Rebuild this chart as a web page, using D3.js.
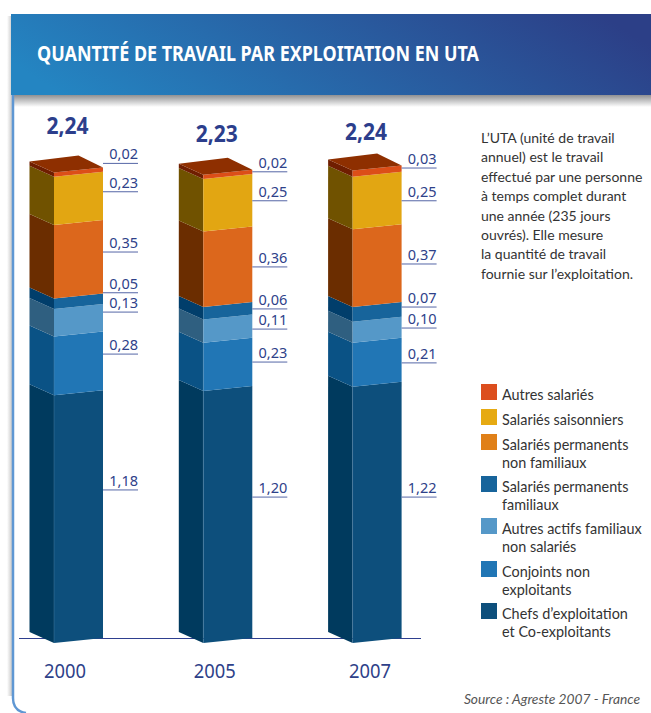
<!DOCTYPE html>
<html>
<head>
<meta charset="utf-8">
<script src="https://cdn.jsdelivr.net/npm/d3@7/dist/d3.min.js"></script>
<style>
  html, body { margin: 0; padding: 0; background: #fff; }
  svg { display: block; }
  text { font-family: "Noto Sans", sans-serif; }
  text.body { font-family: Lato, sans-serif; }
</style>
</head>
<body>
<div id="chart"></div>
<script>
const width = 651;
const height = 713;

const years = ["2000", "2005", "2007"];
const totals = ["2,24", "2,23", "2,24"];

// bottom to top
const categories = ["chefs", "conjoints", "actifs", "permFam", "permNonFam", "saisonniers", "autres"];
const chefs = [1.18, 1.20, 1.22];
const conjoints = [0.28, 0.23, 0.21];
const actifs = [0.13, 0.11, 0.10];
const permFam = [0.05, 0.06, 0.07];
const permNonFam = [0.35, 0.36, 0.37];
const saisonniers = [0.23, 0.25, 0.25];
const autres = [0.02, 0.02, 0.03];
const seriesValues = [chefs, conjoints, actifs, permFam, permNonFam, saisonniers, autres];

// height of each value label's leader line, in UTA on the same scale, per year
const leaderAt = [
  [0.705, 1.352, 1.552, 1.644, 1.838, 2.125, 2.26],
  [0.671, 1.314, 1.471, 1.567, 1.767, 2.082, 2.22],
  [0.671, 1.31, 1.476, 1.576, 1.781, 2.082, 2.238]
];

const frontColors = ["#0d4f7c", "#2176b5", "#5598c8", "#17649b", "#dc671c", "#e2a612", "#dc4e18"];
const sideColors = ["#003a5e", "#0a5285", "#2f5f80", "#013e6b", "#6b2d00", "#705200", "#6f1e00"];
const legendColors = ["#0d4f7c", "#2176b5", "#5598c8", "#17649b", "#e08018", "#e6aa12", "#dc4e1e"];

const legendLabels = [
  ["Chefs d’exploitation", "et Co-exploitants"],
  ["Conjoints non", "exploitants"],
  ["Autres actifs familiaux", "non salariés"],
  ["Salariés permanents", "familiaux"],
  ["Salariés permanents", "non familiaux"],
  ["Salariés saisonniers"],
  ["Autres salariés"]
];
const note = [
  "L’UTA (unité de travail",
  "annuel) est le travail",
  "effectué par une personne",
  "à temps complet durant",
  "une année (235 jours",
  "ouvrés). Elle mesure",
  "la quantité de travail",
  "fournie sur l’exploitation."
];

const textBlue = "#2e4189";
const sideW = 24.5;
const frontW = 49;
const frontDrop = 5;
const sideRise = 6;

const svg = d3.select("#chart").append("svg")
  .attr("width", width)
  .attr("height", height);

const defs = svg.append("defs");
const headGrad = defs.append("linearGradient").attr("id", "head").attr("x1", 0).attr("x2", 1).attr("y1", 0.6).attr("y2", 0.4);
headGrad.append("stop").attr("offset", "0%").attr("stop-color", "#2485c2");
headGrad.append("stop").attr("offset", "100%").attr("stop-color", "#2c3f87");
const shadowGrad = defs.append("linearGradient").attr("id", "shadow").attr("x1", 0).attr("x2", 0).attr("y1", 0).attr("y2", 1);
shadowGrad.append("stop").attr("offset", "0%").attr("stop-color", "#8f9092");
shadowGrad.append("stop").attr("offset", "100%").attr("stop-color", "#ffffff");
const leftGrad = defs.append("linearGradient").attr("id", "leftShadow").attr("x1", 0).attr("x2", 1).attr("y1", 0).attr("y2", 0);
leftGrad.append("stop").attr("offset", "0%").attr("stop-color", "#ffffff");
leftGrad.append("stop").attr("offset", "100%").attr("stop-color", "#c9c9c9");

// frame
svg.append("rect").attr("x", 7).attr("y", 16).attr("width", 5).attr("height", 680).attr("fill", "url(#leftShadow)");
svg.append("rect").attr("x", 13).attr("y", 95).attr("width", 638).attr("height", 12).attr("fill", "url(#shadow)");
svg.append("path")
  .attr("d", "M13,95V698Q13,711 26,713")
  .attr("fill", "none")
  .attr("stroke", "#5f97d3")
  .attr("stroke-width", 2.5);
svg.append("rect").attr("x", 11).attr("y", 14).attr("width", 640).attr("height", 81).attr("fill", "url(#head)");
svg.append("text")
  .attr("x", 37)
  .attr("y", 61)
  .attr("fill", "#fff")
  .attr("font-size", 21)
  .attr("font-weight", 700)
  .attr("textLength", 442)
  .attr("lengthAdjust", "spacingAndGlyphs")
  .text("QUANTITÉ DE TRAVAIL PAR EXPLOITATION EN UTA");

// scales
const x = d3.scalePoint().domain(years).range([54, 352.6]);
const y = d3.scaleLinear().domain([0, 2.25]).range([638, 165.5]);

const table = years.map((yr, i) => {
  const row = { year: yr };
  categories.forEach((c, j) => { row[c] = seriesValues[j][i]; });
  return row;
});
const stacked = d3.stack().keys(categories)(table);

// baseline
svg.append("line")
  .attr("x1", 19).attr("x2", 421)
  .attr("y1", y(0) + 0.5).attr("y2", y(0) + 0.5)
  .attr("stroke", "#2e3f8f")
  .attr("stroke-width", 1);

const sidePath = (fl, d) => {
  const b = y(d[0]), t = y(d[1]);
  return "M" + (fl - sideW) + "," + (b - sideRise) + "L" + fl + "," + (b + frontDrop) +
    "V" + (t + frontDrop) + "L" + (fl - sideW) + "," + (t - sideRise) + "Z";
};
const frontPath = (fl, d) => {
  const b = y(d[0]), t = y(d[1]);
  return "M" + fl + "," + (b + frontDrop) + "L" + (fl + frontW) + "," + b +
    "V" + t + "L" + fl + "," + (t + frontDrop) + "Z";
};

const layers = svg.selectAll("g.layer")
  .data(stacked)
  .enter()
  .append("g")
  .attr("class", "layer");

layers.selectAll("path.side")
  .data((s, j) => s.map(d => ({ d, j })))
  .enter()
  .append("path")
  .attr("class", "side")
  .attr("fill", p => sideColors[p.j])
  .attr("d", p => sidePath(x(p.d.data.year), p.d));

layers.selectAll("path.front")
  .data((s, j) => s.map(d => ({ d, j })))
  .enter()
  .append("path")
  .attr("class", "front")
  .attr("fill", p => frontColors[p.j])
  .attr("d", p => frontPath(x(p.d.data.year), p.d));

// faint seam on the corner of the two blue bottom layers
svg.selectAll("line.seam")
  .data(stacked[1])
  .enter()
  .append("line")
  .attr("class", "seam")
  .attr("x1", d => x(d.data.year)).attr("x2", d => x(d.data.year))
  .attr("y1", y(0) + frontDrop)
  .attr("y2", d => y(d[1]) + frontDrop)
  .attr("stroke", "#5b8db0")
  .attr("stroke-opacity", 0.45)
  .attr("stroke-width", 0.8);

// top faces
svg.selectAll("path.top")
  .data(stacked[stacked.length - 1])
  .enter()
  .append("path")
  .attr("class", "top")
  .attr("fill", "#8e2f00")
  .attr("d", d => {
    const fl = x(d.data.year), t = y(d[1]);
    return "M" + fl + "," + (t + frontDrop) + "L" + (fl - sideW) + "," + (t - sideRise) +
      "L" + (fl + sideW) + "," + (t - 12) + "L" + (fl + frontW) + "," + t + "Z";
  });

// value labels with their leader lines
stacked.forEach((s, j) => {
  s.forEach((d, i) => {
    const fl = x(d.data.year);
    const ly = y(leaderAt[i][j]);
    svg.append("line")
      .attr("x1", fl + frontW).attr("x2", fl + frontW + 35)
      .attr("y1", ly).attr("y2", ly)
      .attr("stroke", "#5566a6")
      .attr("stroke-width", 1);
    svg.append("text")
      .attr("x", fl + frontW + 35)
      .attr("y", ly - 4)
      .attr("text-anchor", "end")
      .attr("fill", textBlue)
      .attr("font-size", 14.5)
      .text(d3.format(".2f")(seriesValues[j][i]).replace(".", ","));
  });
});

// totals
const totalY = [134, 142, 140];
svg.selectAll("text.total")
  .data(totals)
  .enter()
  .append("text")
  .attr("class", "total")
  .attr("x", (d, i) => x(years[i]) + 13.5)
  .attr("y", (d, i) => totalY[i])
  .attr("text-anchor", "middle")
  .attr("fill", "#2c3e8c")
  .attr("font-size", 23)
  .attr("font-weight", 700)
  .attr("textLength", 42)
  .attr("lengthAdjust", "spacingAndGlyphs")
  .text(d => d);

// year labels
const yearOffset = [11, 11.5, 17.5];
svg.selectAll("text.year")
  .data(years)
  .enter()
  .append("text")
  .attr("class", "year")
  .attr("x", (d, i) => x(d) + yearOffset[i])
  .attr("y", 678)
  .attr("text-anchor", "middle")
  .attr("fill", textBlue)
  .attr("font-size", 19)
  .attr("textLength", 42)
  .attr("lengthAdjust", "spacingAndGlyphs")
  .text(d => d);

// note
svg.append("g").selectAll("text")
  .data(note)
  .enter()
  .append("text")
  .attr("class", "body")
  .attr("x", 481)
  .attr("y", (d, i) => 143 + i * 19.4)
  .attr("fill", "#333")
  .attr("font-size", 14)
  .text(d => d);

// legend, top entry first
const legendY = [603, 561, 518, 476, 434, 409, 384];
const legend = svg.selectAll("g.legend")
  .data(legendLabels)
  .enter()
  .append("g")
  .attr("class", "legend")
  .attr("transform", (d, i) => "translate(481," + legendY[i] + ")");
legend.append("rect")
  .attr("width", 16).attr("height", 16)
  .attr("fill", (d, i) => legendColors[i]);
legend.selectAll("text")
  .data(d => d)
  .enter()
  .append("text")
  .attr("class", "body")
  .attr("x", 21)
  .attr("y", (d, i) => 16 + i * 17.5)
  .attr("fill", "#333")
  .attr("font-size", 14.4)
  .text(d => d);

svg.append("text")
  .attr("class", "body")
  .attr("x", 640)
  .attr("y", 704)
  .attr("text-anchor", "end")
  .attr("fill", "#555")
  .attr("font-size", 13.8)
  .attr("font-style", "italic")
  .text("Source : Agreste 2007 - France");
</script>
</body>
</html>
